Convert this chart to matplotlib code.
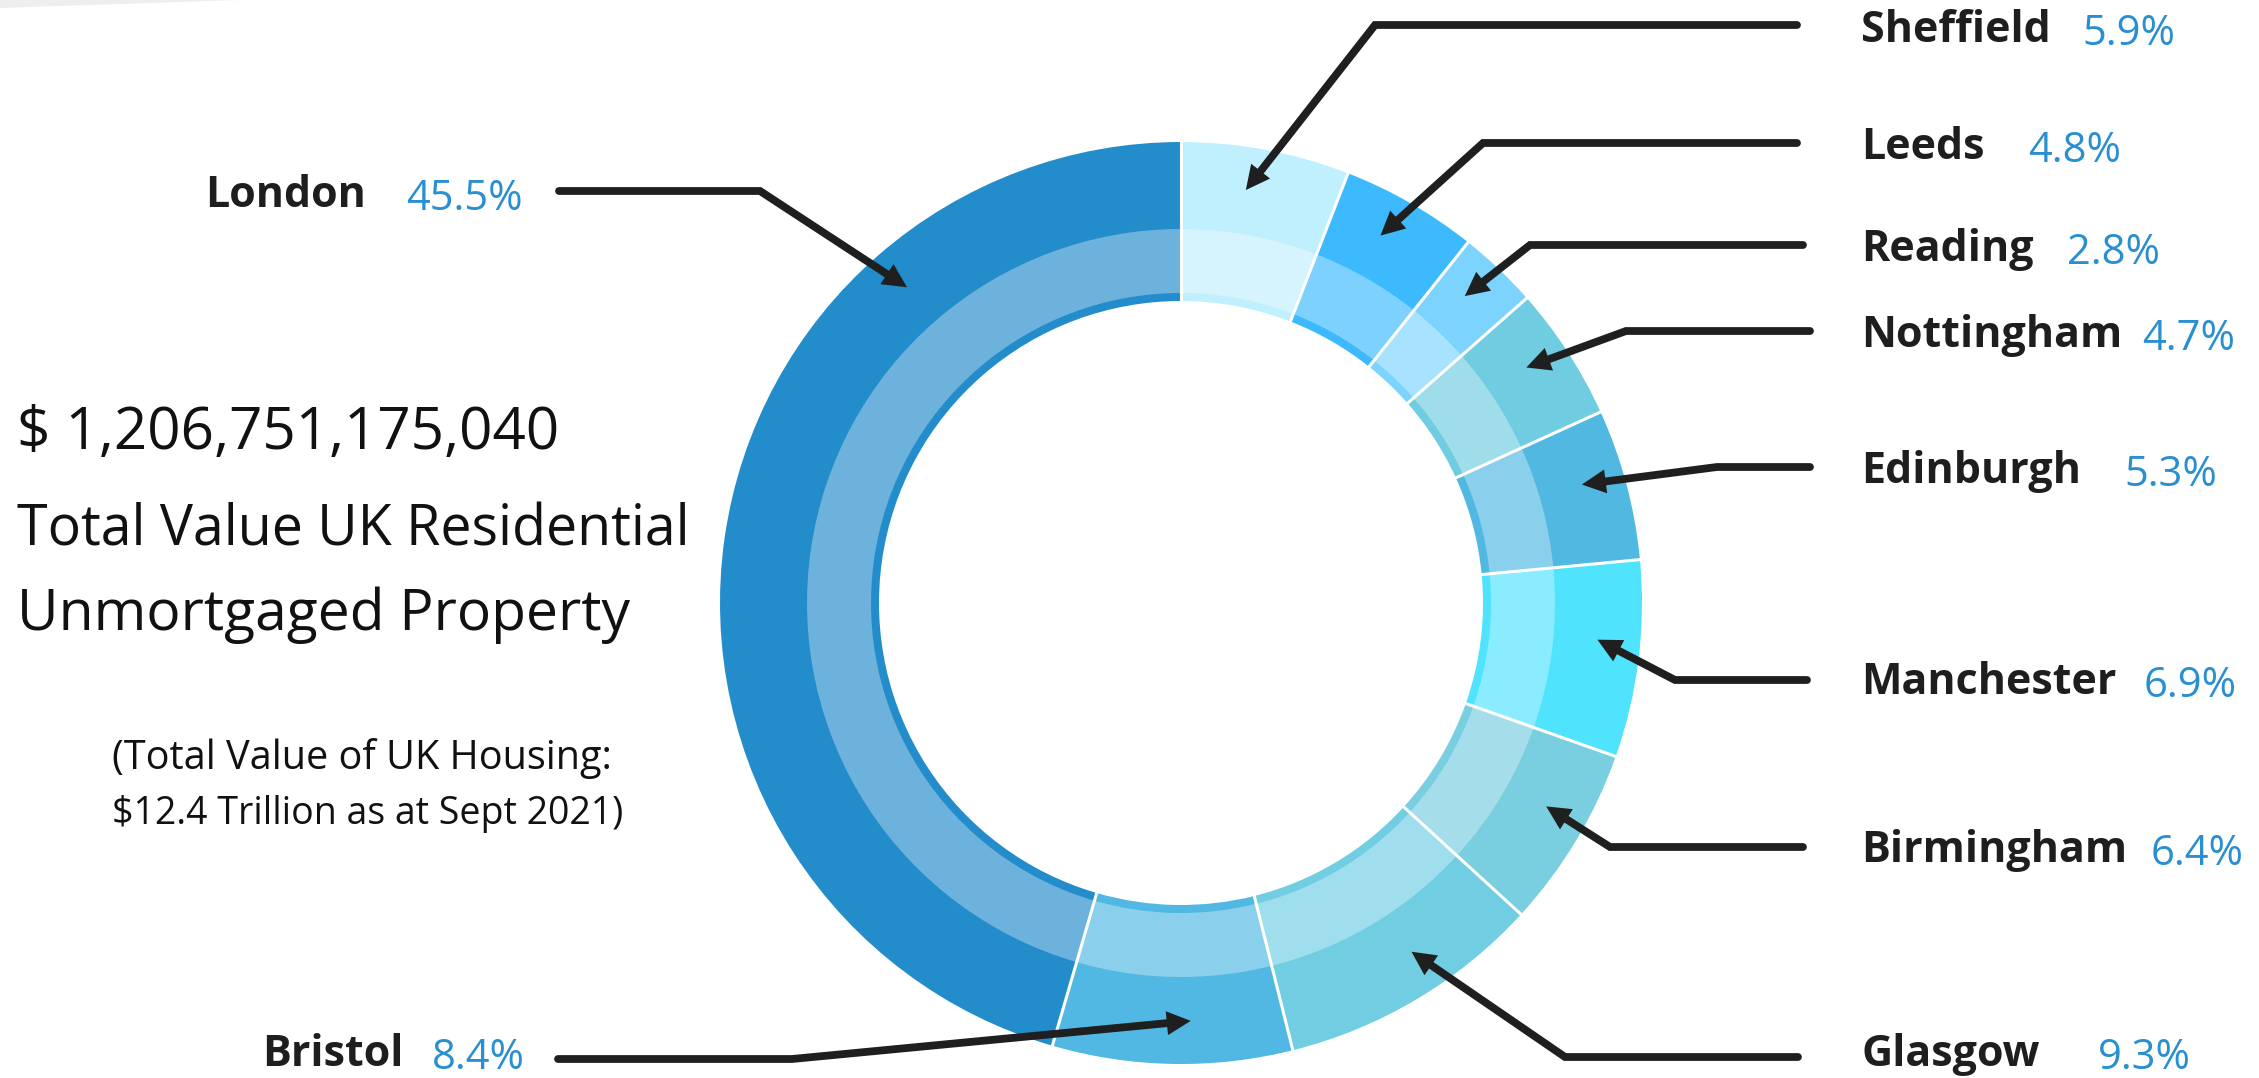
import numpy as np
import matplotlib
matplotlib.use("Agg")
import matplotlib.pyplot as plt
from matplotlib.colors import to_rgb
from matplotlib.patches import Polygon

W, H = 2259, 1078

# data, clockwise from 12 o'clock
cities = ["Sheffield", "Leeds", "Reading", "Nottingham", "Edinburgh",
          "Manchester", "Birmingham", "Glasgow", "Bristol", "London"]
shares = [5.9, 4.8, 2.8, 4.7, 5.3, 6.9, 6.4, 9.3, 8.4, 45.5]
ring_colors = ["#C0EFFD", "#3DBAFD", "#7CD3FD", "#6FCCE1", "#51B8E1",
               "#50E3FE", "#79CEE0", "#70CDE2", "#50B8E2", "#238CCB"]

total_value = "$ 1,206,751,175,040"
headline = ["Total Value UK Residential", "Unmortgaged Property"]
footnote = ["(Total Value of UK Housing:", "$12.4 Trillion as at Sept 2021)"]

# label layout in pixels from the top-left:
# name x, pct x, line y, line start x, elbow x, text baseline y
label_layout = {
    "Sheffield":  (1861, 2082, 25, 1797, 1375, 42),
    "Leeds":      (1861, 2028, 143, 1797, 1483, 159),
    "Reading":    (1861, 2067, 245, 1803, 1530, 261),
    "Nottingham": (1861, 2142, 331, 1810, 1626, 347),
    "Edinburgh":  (1861, 2124, 467, 1810, 1717, 483),
    "Manchester": (1861, 2144, 680, 1807, 1675, 694),
    "Birmingham": (1861, 2151, 847, 1803, 1610, 862),
    "Glasgow":    (1861, 2098, 1057, 1798, 1565, 1066),
    "Bristol":    (262, 432, 1059, 558, 792, 1066),
    "London":     (205, 406, 191, 559, 760, 207),
}
tip_frac = [0.42] * 9 + [0.75]   # where in each slice the arrow points

cx, cy = 1181, H - 603
R_OUT, R_MID, R_IN, R_HOLE = 461, 374, 310, 302
R_TIP = 418
HEAD_L, HEAD_W = 24, 12
LINE_C = "#1F1F1F"
PCT_C = "#2A8FD0"
FONTS = ["Open Sans", "DejaVu Sans"]


def lighten(c, amt=0.33):
    r, g, b = to_rgb(c)
    return (r + (1 - r) * amt, g + (1 - g) * amt, b + (1 - b) * amt)


fig = plt.figure(figsize=(W / 100, H / 100), dpi=100)
ax = fig.add_axes([0, 0, 1, 1])

common = dict(startangle=90, counterclock=False, center=(cx, cy))
ax.pie(shares, colors=ring_colors, radius=R_OUT,
       wedgeprops=dict(width=R_OUT - R_HOLE, linewidth=0), **common)
ax.pie(shares, colors=[lighten(c) for c in ring_colors], radius=R_MID,
       wedgeprops=dict(width=R_MID - R_IN, linewidth=0), **common)

ax.set_xlim(0, W)
ax.set_ylim(0, H)
ax.set_aspect("equal")
ax.axis("off")

# white separators between slices
total = sum(shares)
bounds = np.concatenate([[0], np.cumsum(shares)]) / total
for b in bounds[:-1]:
    t = np.deg2rad(90 - 360 * b)
    ax.plot([cx + (R_HOLE - 2) * np.cos(t), cx + (R_OUT + 2) * np.cos(t)],
            [cy + (R_HOLE - 2) * np.sin(t), cy + (R_OUT + 2) * np.sin(t)],
            color="white", lw=2.2, solid_capstyle="butt", zorder=2)

# arrows and labels
for i, city in enumerate(cities):
    name_x, pct_x, ly, sx, ex, by = label_layout[city]
    Y = H - ly
    frac = bounds[i] + tip_frac[i] * shares[i] / total
    t = np.deg2rad(90 - 360 * frac)
    tip = np.array([cx + R_TIP * np.cos(t), cy + R_TIP * np.sin(t)])
    d = tip - np.array([ex, Y])
    u = d / np.linalg.norm(d)
    perp = np.array([-u[1], u[0]])
    base = tip - HEAD_L * u
    stop = tip - HEAD_L * 0.6 * u
    ax.plot([sx, ex, stop[0]], [Y, Y, stop[1]], color=LINE_C, lw=5.6,
            solid_capstyle="round", solid_joinstyle="miter", zorder=3)
    ax.add_patch(Polygon([tip, base + HEAD_W * perp, base - HEAD_W * perp],
                         closed=True, color=LINE_C, lw=0, zorder=4))
    ax.text(name_x, H - by, city, fontsize=31, fontweight="bold",
            family=FONTS, color="#1E1E1E", ha="left", va="baseline")
    ax.text(pct_x, H - by - 3, f"{shares[i]:.1f}%", fontsize=30,
            family=FONTS, fontweight="normal", color=PCT_C,
            ha="left", va="baseline")

# left side text block
left_font = dict(family=FONTS, fontweight="normal", color="#111111",
                 ha="left", va="baseline")
ax.text(17, H - 449, total_value, fontsize=42, **left_font)
ax.text(17, H - 545, headline[0], fontsize=40, **left_font)
ax.text(17, H - 630, headline[1], fontsize=41, **left_font)
ax.text(112, H - 769, footnote[0], fontsize=28.5, **left_font)
ax.text(112, H - 824, footnote[1], fontsize=27, **left_font)

# faint grey sliver in the top-left corner
ax.add_patch(Polygon([(0, H), (240, H), (0, H - 8)], closed=True,
                     color="#EEEEEE", lw=0))

fig.savefig("out.png", dpi=100, facecolor="white")
